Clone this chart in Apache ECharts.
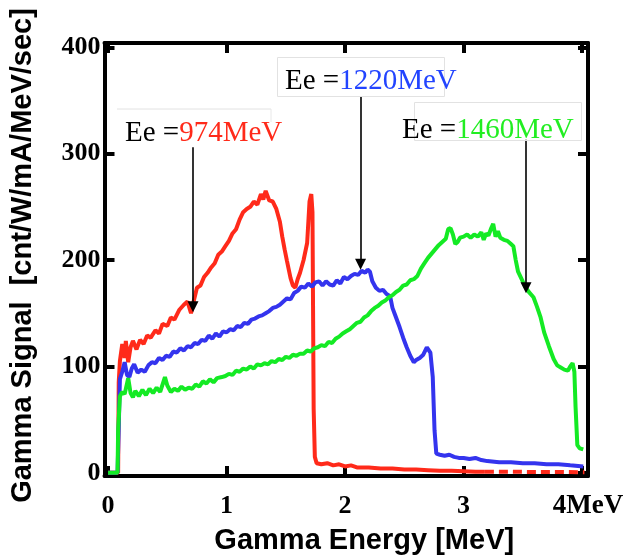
<!DOCTYPE html>
<html><head><meta charset="utf-8">
<script src="https://cdn.jsdelivr.net/npm/echarts@6/dist/echarts.min.js"></script>
<style>html,body{margin:0;padding:0;background:#fff}#c{width:627px;height:560px}</style>
</head><body><div id="c"></div>
<script>
// ---- data (Gamma Energy [MeV], Gamma Signal) ----
const xTicks = [0, 1, 2, 3, 4];
const xTickLabels = ['0', '1', '2', '3', '4MeV'];
const yTicks = [0, 100, 200, 300, 400];
const yTickLabels = ['0', '100', '200', '300', '400'];

const redSpectrum = [[0,0],[0.085,0],[0.09,85],[0.10,105],[0.12,121],[0.14,108],[0.15,124],[0.17,104],[0.19,118],[0.21,124],[0.24,116],[0.27,125],[0.30,121],[0.33,129],[0.36,127],[0.40,134],[0.43,131],[0.46,140],[0.50,138],[0.53,146],[0.56,144],[0.60,153],[0.64,158],[0.67,161],[0.70,150],[0.72,160],[0.75,174],[0.78,176],[0.81,184],[0.84,188],[0.87,193],[0.90,197],[0.93,205],[0.96,208],[0.99,213],[1.02,218],[1.05,225],[1.08,229],[1.11,238],[1.14,245],[1.17,248],[1.20,250],[1.23,255],[1.26,252],[1.29,262],[1.31,257],[1.33,265],[1.36,256],[1.39,255],[1.42,248],[1.45,236],[1.47,222],[1.49,210],[1.51,199],[1.54,183],[1.56,176],[1.58,174],[1.60,182],[1.62,188],[1.65,200],[1.68,216],[1.70,255],[1.715,262],[1.725,245],[1.735,60],[1.745,15],[1.76,9],[1.80,8],[1.85,9],[1.90,7],[1.95,8],[2.00,6],[2.05,7],[2.10,5],[2.20,5],[2.30,4],[2.40,4],[2.50,3],[2.60,3],[2.70,2.5],[2.80,2],[2.90,2],[3.00,1.5],[3.10,1],[3.18,1]];
const redTail = [[3.18,1],[3.40,1],[3.60,0.8],[3.80,0.8],[4.02,0.5]];

const blueSpectrum = [[0,0],[0.08,0],[0.09,42],[0.10,88],[0.12,95],[0.14,104],[0.16,92],[0.18,90],[0.20,98],[0.22,102],[0.25,94],[0.28,97],[0.31,95],[0.34,101],[0.37,104],[0.40,103],[0.43,108],[0.46,106],[0.49,110],[0.52,109],[0.55,114],[0.58,113],[0.61,117],[0.64,115],[0.67,119],[0.70,118],[0.73,122],[0.76,121],[0.79,125],[0.82,124],[0.85,129],[0.88,126],[0.91,131],[0.94,128],[0.97,133],[1.00,132],[1.03,135],[1.06,134],[1.09,138],[1.12,137],[1.15,141],[1.18,140],[1.21,144],[1.24,145],[1.27,147],[1.30,148],[1.33,150],[1.36,152],[1.39,155],[1.42,156],[1.45,158],[1.48,161],[1.51,164],[1.54,163],[1.57,169],[1.60,171],[1.63,175],[1.66,174],[1.69,178],[1.72,175],[1.75,179],[1.78,180],[1.81,176],[1.84,180],[1.87,177],[1.90,176],[1.93,181],[1.96,178],[1.99,184],[2.02,182],[2.05,185],[2.08,187],[2.11,186],[2.14,190],[2.17,188],[2.19,191],[2.21,189],[2.23,180],[2.26,174],[2.29,171],[2.32,172],[2.35,168],[2.38,166],[2.40,155],[2.42,149],[2.46,137],[2.49,127],[2.52,118],[2.55,110],[2.58,104],[2.60,106],[2.63,108],[2.66,111],[2.69,118],[2.72,113],[2.74,90],[2.755,40],[2.77,18],[2.80,17],[2.84,16],[2.88,17],[2.92,15],[2.96,14],[3.00,14],[3.05,13],[3.10,14],[3.15,12],[3.20,11],[3.30,10],[3.40,10],[3.50,9],[3.60,9],[3.70,8],[3.80,8],[3.90,7],[4.01,6]];

const greenSpectrum = [[0,0],[0.08,0],[0.085,40],[0.10,72],[0.12,76],[0.14,74],[0.17,89],[0.19,75],[0.21,71],[0.23,77],[0.26,72],[0.29,78],[0.32,73],[0.35,79],[0.38,75],[0.41,80],[0.44,76],[0.48,90],[0.50,82],[0.53,76],[0.56,79],[0.59,77],[0.62,81],[0.65,78],[0.68,80],[0.71,79],[0.74,83],[0.77,81],[0.80,86],[0.83,84],[0.86,88],[0.89,85],[0.92,89],[0.96,90],[0.99,91],[1.02,93],[1.05,92],[1.08,96],[1.11,95],[1.14,98],[1.17,97],[1.20,100],[1.23,98],[1.26,102],[1.29,101],[1.32,103],[1.35,102],[1.38,105],[1.41,104],[1.44,107],[1.47,106],[1.50,109],[1.53,108],[1.56,111],[1.59,110],[1.62,112],[1.65,112],[1.68,115],[1.71,114],[1.74,117],[1.77,118],[1.80,120],[1.83,119],[1.86,123],[1.89,122],[1.92,126],[1.95,128],[1.98,131],[2.01,133],[2.04,135],[2.07,138],[2.10,141],[2.13,142],[2.16,146],[2.19,148],[2.22,152],[2.25,155],[2.28,157],[2.31,160],[2.34,162],[2.37,165],[2.40,167],[2.43,170],[2.46,172],[2.49,176],[2.52,177],[2.55,181],[2.58,182],[2.61,185],[2.64,192],[2.67,197],[2.70,202],[2.73,206],[2.76,210],[2.79,214],[2.82,217],[2.85,220],[2.87,229],[2.89,230],[2.91,224],[2.93,215],[2.95,217],[2.97,221],[3.00,222],[3.03,224],[3.06,221],[3.09,224],[3.12,222],[3.15,226],[3.17,219],[3.19,225],[3.21,223],[3.23,229],[3.25,234],[3.27,222],[3.29,227],[3.31,221],[3.34,219],[3.37,218],[3.40,215],[3.42,213],[3.44,200],[3.46,189],[3.49,182],[3.52,175],[3.55,170],[3.59,165],[3.62,156],[3.65,146],[3.68,132],[3.72,119],[3.76,107],[3.79,101],[3.82,99],[3.85,97],[3.88,96],[3.90,100],[3.92,103],[3.935,95],[3.945,62],[3.96,26],[3.98,23],[4.01,22]];

const beamLabels = ['974MeV', '1220MeV', '1460MeV'];
const arrowEnergy = [0.717, 2.131, 3.527];
const arrowTop = [306, 354, 313];
const arrowTip = [156, 196, 174];

// ---- styles ----
const RED = '#ff2a1a', BLUE = '#3434ee', GREEN = '#14ea24';
const SERIF = "'Liberation Serif','Times New Roman',serif";
const SANS = "'Liberation Sans',Arial,sans-serif";
const lineW = 4;
const curveW = 4;

const chart = echarts.init(document.getElementById('c'), null, {renderer: 'canvas'});

function frameAxis(extra) {
  return Object.assign({
    type: 'value', splitLine: {show: false},
    axisLine: {show: true, onZero: false, lineStyle: {color: '#000', width: lineW}},
  }, extra);
}

const option = {
  animation: false,
  backgroundColor: '#fff',
  grid: {left: 104.5, right: 39, top: 43, bottom: 80},
  xAxis: [
    frameAxis({
      position: 'bottom', min: -0.03, max: 4.05,
      axisTick: {show: true, inside: true, length: 10, customValues: xTicks, lineStyle: {color: '#000', width: 4}},
      axisLabel: {
        customValues: xTicks, margin: 17, color: '#000', fontFamily: SERIF, fontWeight: 'bold', fontSize: 26,
        formatter: v => {
          const i = xTicks.indexOf(v);
          const t = i >= 0 ? xTickLabels[i] : '';
          return i === xTicks.length - 1 ? '{m|' + t + '}' : t;
        },
        rich: {m: {color: '#000', fontFamily: SERIF, fontWeight: 'bold', fontSize: 27, padding: [0, 0, 0, 12]}}
      },
      name: 'Gamma Energy [MeV]', nameLocation: 'middle', nameGap: 50,
      nameTextStyle: {color: '#000', fontFamily: SANS, fontWeight: 'bold', fontSize: 29, padding: [0, 0, 0, 36]}
    }),
    frameAxis({
      position: 'top', min: -0.03, max: 4.05,
      axisTick: {show: true, inside: true, length: 10, customValues: xTicks, lineStyle: {color: '#000', width: 4}},
      axisLabel: {show: false}
    })
  ],
  yAxis: [
    frameAxis({
      position: 'left', min: -3, max: 404,
      axisTick: {show: true, inside: true, length: 10, customValues: yTicks, lineStyle: {color: '#000', width: 4}},
      axisLabel: {
        customValues: yTicks, margin: 4, color: '#000', fontFamily: SERIF, fontWeight: 'bold', fontSize: 26,
        padding: [10, 0, 0, 0],
        formatter: v => { const i = yTicks.indexOf(v); return i >= 0 ? yTickLabels[i] : ''; }
      },
      name: 'Gamma Signal  [cnt/W/mA/MeV/sec]', nameLocation: 'middle', nameGap: 67,
      nameTextStyle: {color: '#000', fontFamily: SANS, fontWeight: 'bold', fontSize: 29, padding: [0, 0, 0, 8]}
    }),
    frameAxis({
      position: 'right', min: -3, max: 404,
      axisTick: {show: true, inside: true, length: 10, customValues: yTicks, lineStyle: {color: '#000', width: 4}},
      axisLabel: {show: false}
    })
  ],
  series: [
    {type: 'line', name: '974', data: redSpectrum, showSymbol: false, lineStyle: {color: RED, width: curveW}, itemStyle: {color: RED}, z: 2},
    {type: 'line', name: '974tail', data: redTail, showSymbol: false, lineStyle: {color: RED, width: curveW, type: [9, 5]}, itemStyle: {color: RED}, z: 2},
    {type: 'line', name: '1220', data: blueSpectrum, showSymbol: false, lineStyle: {color: BLUE, width: curveW}, itemStyle: {color: BLUE}, z: 3},
    {type: 'line', name: '1460', data: greenSpectrum, showSymbol: false, lineStyle: {color: GREEN, width: curveW}, itemStyle: {color: GREEN}, z: 4,
      markLine: {
        silent: true, symbol: ['none', 'triangle'], symbolSize: 11,
        label: {show: false}, lineStyle: {color: '#000', width: 1.6, type: 'solid'},
        itemStyle: {color: '#000'},
        emphasis: {disabled: true},
        data: arrowEnergy.map((e, i) => [{coord: [e, arrowTop[i]]}, {coord: [e, arrowTip[i]]}])
      }
    }
  ],
  graphic: [
    {type: 'line', shape: {x1: 117, y1: 109, x2: 271, y2: 109}, style: {stroke: '#e2e2e2', lineWidth: 1}, z: 10},
    {type: 'line', shape: {x1: 271, y1: 109, x2: 271, y2: 122}, style: {stroke: '#e8e8e8', lineWidth: 1}, z: 10},
    {type: 'rect', shape: {x: 277.5, y: 57.5, width: 167, height: 39}, style: {fill: 'none', stroke: '#e2e2e2', lineWidth: 1}, z: 10},
    {type: 'rect', shape: {x: 414.5, y: 102.5, width: 167, height: 38}, style: {fill: 'none', stroke: '#e2e2e2', lineWidth: 1}, z: 10},
    {type: 'text', x: 125, y: 133, z: 11, style: {
      text: '{k|Ee =}{v|' + beamLabels[0] + '}', align: 'left', verticalAlign: 'middle',
      rich: {k: {fill: '#000', fontFamily: SERIF, fontSize: 29}, v: {fill: RED, fontFamily: SERIF, fontSize: 29}}}},
    {type: 'text', x: 285, y: 81, z: 11, style: {
      text: '{k|Ee =}{v|' + beamLabels[1] + '}', align: 'left', verticalAlign: 'middle',
      rich: {k: {fill: '#000', fontFamily: SERIF, fontSize: 29}, v: {fill: '#2244ff', fontFamily: SERIF, fontSize: 29}}}},
    {type: 'text', x: 402, y: 130, z: 11, style: {
      text: '{k|Ee =}{v|' + beamLabels[2] + '}', align: 'left', verticalAlign: 'middle',
      rich: {k: {fill: '#000', fontFamily: SERIF, fontSize: 29}, v: {fill: '#22ee22', fontFamily: SERIF, fontSize: 29}}}}
  ]
};
chart.setOption(option);
</script></body></html>
